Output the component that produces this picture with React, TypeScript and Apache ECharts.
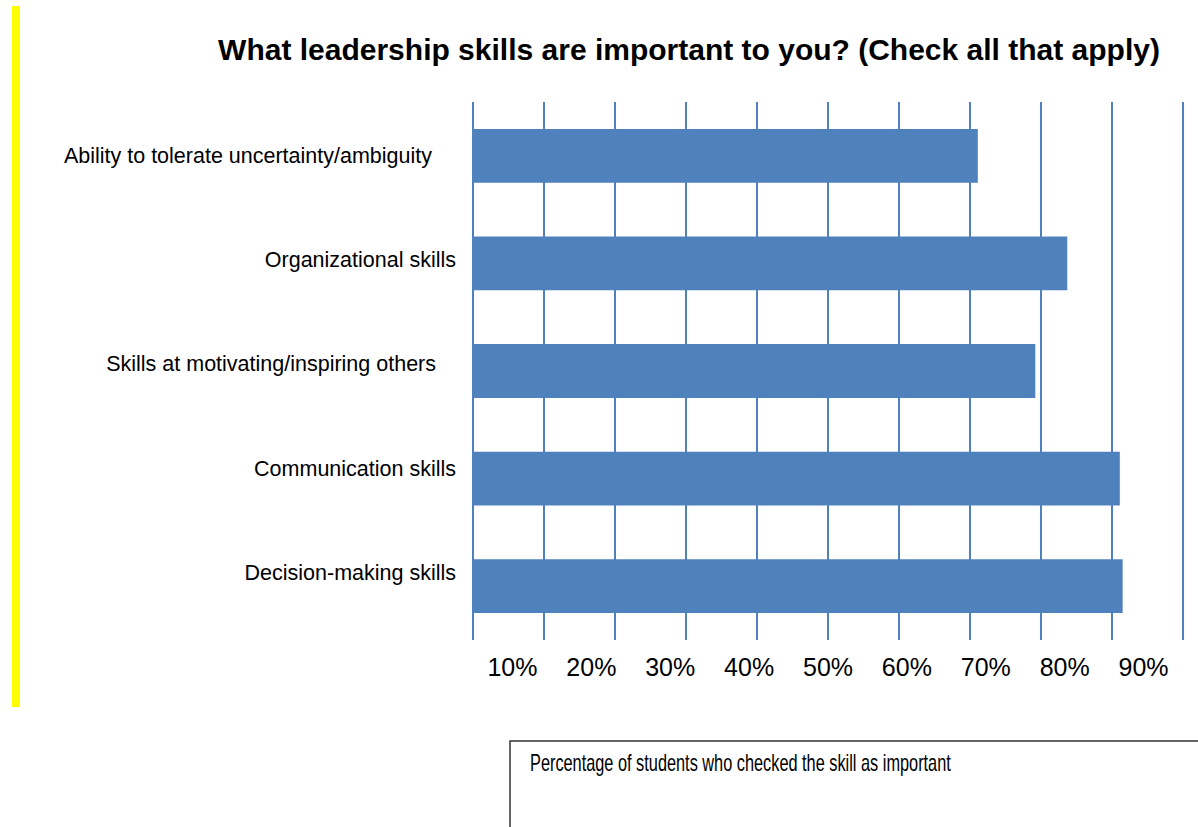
import React, { useEffect, useRef } from "react";
import * as echarts from "echarts";

const categories = [
  "Ability to tolerate uncertainty/ambiguity",
  "Organizational skills",
  "Skills at motivating/inspiring others",
  "Communication skills",
  "Decision-making skills",
];
const values = [71.1, 83.7, 79.2, 91.1, 91.5];
const tickLabels = ["10%", "20%", "30%", "40%", "50%", "60%", "70%", "80%", "90%"];
const titleText = "What leadership skills are important to you? (Check all that apply)";
const boxText = "Percentage of students who checked the skill as important";

const SANS = "'Liberation Sans', Arial, sans-serif";

export default function App() {
  const ref = useRef<HTMLDivElement>(null);
  useEffect(() => {
    if (!ref.current) return;
    const chart = echarts.init(ref.current, null, { renderer: "svg" });
    const base = { fontFamily: SANS, fontSize: 21.5, color: "#000" };
    chart.setOption({
      animation: false,
      backgroundColor: "#ffffff",
      title: {
        text: titleText,
        left: 684,
        top: 29,
        textAlign: "center",
        textStyle: { fontFamily: SANS, fontSize: 30, fontWeight: "bold", color: "#000" },
      },
      grid: { left: 473, right: 15, top: 102, bottom: 187, containLabel: false },
      xAxis: [
        {
          type: "value",
          min: 0,
          max: 100,
          interval: 10,
          position: "bottom",
          axisLine: { show: false },
          axisTick: { show: false },
          axisLabel: { show: false },
          splitLine: { show: true, lineStyle: { color: "#4F81BD", width: 2 } },
        },
        {
          type: "category",
          data: tickLabels,
          position: "bottom",
          boundaryGap: true,
          axisLine: { show: false },
          axisTick: { show: false },
          splitLine: { show: false },
          axisLabel: {
            margin: 14,
            fontFamily: SANS,
            fontSize: 25,
            color: "#000",
          },
        },
      ],
      yAxis: {
        type: "category",
        inverse: true,
        data: categories,
        axisLine: { show: false },
        axisTick: { show: false },
        splitLine: { show: false },
        axisLabel: {
          margin: 17,
          fontFamily: SANS,
          fontSize: 21.5,
          color: "#000",
          formatter: (v: string, i: number) => `{r${i}|${v}}`,
          rich: {
            r0: { ...base, padding: [0, 24, 0, 0] },
            r1: { ...base, padding: [0, 0, 6, 0] },
            r2: { ...base, padding: [0, 20, 14, 0] },
            r3: { ...base, padding: [0, 0, 20, 0] },
            r4: { ...base, padding: [0, 0, 26, 0] },
          },
        },
      },
      series: [
        {
          type: "bar",
          xAxisIndex: 0,
          data: values,
          barWidth: "50%",
          itemStyle: { color: "#4F81BD" },
        },
      ],
      graphic: [
        {
          type: "rect",
          shape: { x: 12, y: 6, width: 8, height: 701 },
          style: { fill: "#FFFF00" },
          silent: true,
        },
        {
          type: "rect",
          shape: { x: 510, y: 741, width: 700, height: 100 },
          style: { fill: "#ffffff", stroke: "#333333", lineWidth: 1.5 },
          silent: true,
        },
        {
          type: "text",
          x: 530,
          y: 762,
          scaleX: 0.68,
          style: {
            text: boxText,
            fontFamily: SANS,
            fontSize: 24,
            fill: "#000",
            verticalAlign: "middle",
          },
          silent: true,
        },
      ],
    });
    return () => chart.dispose();
  }, []);
  return (
    <div
      ref={ref}
      style={{ position: "fixed", left: 0, top: 0, width: 1198, height: 827, background: "#fff" }}
    />
  );
}
